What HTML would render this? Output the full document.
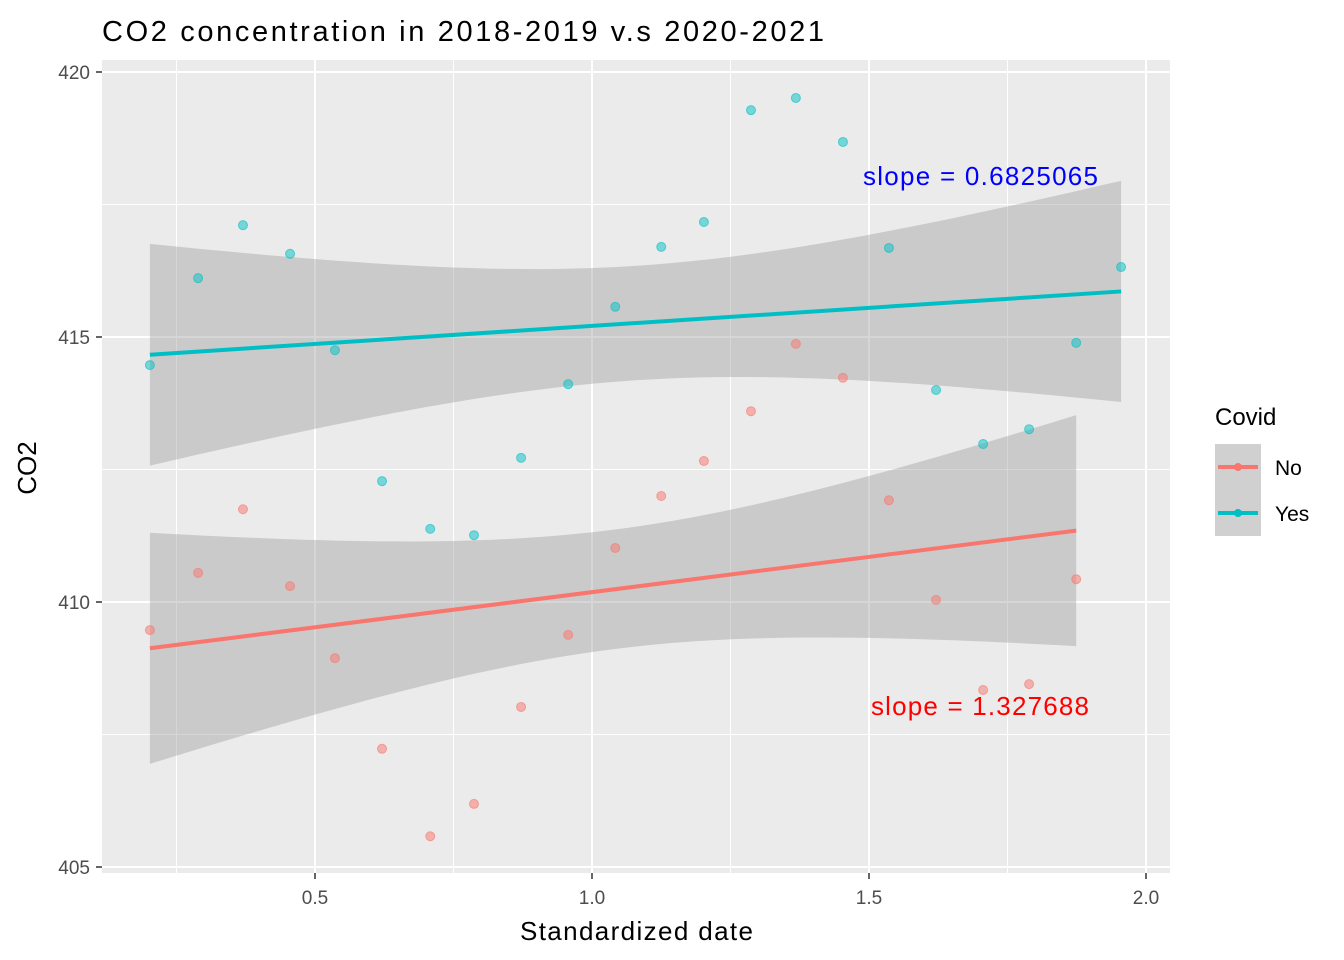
<!DOCTYPE html>
<html><head><meta charset="utf-8"><style>
html,body{margin:0;padding:0;background:#fff;}
svg{display:block;font-family:"Liberation Sans",Arial,sans-serif;}
</style></head><body>
<svg id="chart" width="1344" height="960">
<rect x="0" y="0" width="1344" height="960" fill="#fff"/>
<text x="102" y="41" font-size="29" fill="#000" textLength="722">CO2 concentration in 2018-2019 v.s 2020-2021</text>
<rect x="102" y="60" width="1068" height="813" fill="#ebebeb"/>
<g id="grid"></g><g id="bands"></g><g id="lines"></g><g id="points"></g><g id="axes"></g>
<text x="520" y="940" font-size="26" textLength="233">Standardized date</text>
<text transform="translate(36,468) rotate(-90)" font-size="26" text-anchor="middle">CO2</text>
<text x="863" y="185" font-size="26" fill="#0000ff" textLength="235">slope = 0.6825065</text>
<text x="871" y="715" font-size="26" fill="#ff0000" textLength="218">slope = 1.327688</text>
<g>
<text x="1215" y="425" font-size="24">Covid</text>
<g>
<rect x="1215" y="444" width="46" height="46" fill="#d0d0d0"/>
<line x1="1218" y1="467" x2="1258" y2="467" stroke="#f8766d" stroke-width="4"/>
<circle cx="1238" cy="467" r="4" fill="#f8766d"/>
<text x="1275" y="475" font-size="21">No</text></g>
<g>
<rect x="1215" y="490" width="46" height="46" fill="#d0d0d0"/>
<line x1="1218" y1="513" x2="1258" y2="513" stroke="#00bfc4" stroke-width="4"/>
<circle cx="1238" cy="513" r="4" fill="#00bfc4"/>
<text x="1275" y="521" font-size="21">Yes</text></g>
</g>
</svg>
<script>
const xNo = [0.202,0.289,0.370,0.455,0.536,0.621,0.708,0.787,0.872,0.957,1.042,1.125,1.202,1.287,1.368,1.453,1.536,1.621,1.706,1.789,1.874];
const yNo = [409.47,410.55,411.75,410.30,408.94,407.23,405.58,406.19,408.02,409.38,411.02,412.0,412.66,413.60,414.87,414.23,411.92,410.04,408.34,408.45,410.43];
const xYes = [0.202,0.289,0.370,0.455,0.536,0.621,0.708,0.787,0.872,0.957,1.042,1.125,1.202,1.287,1.368,1.453,1.536,1.621,1.706,1.789,1.874,1.955];
const yYes = [414.47,416.11,417.11,416.57,414.75,412.28,411.38,411.26,412.72,414.11,415.57,416.70,417.17,419.28,419.51,418.68,416.68,414.0,412.98,413.26,414.89,416.32];
const xTicks = [0.5,1.0,1.5,2.0];
const yTicks = [405,410,415,420];
const NS="http://www.w3.org/2000/svg";
const X = v => 38 + v*554;
const Y = v => 72 + (420-v)*53;
function mk(tag, attrs, parent){const e=document.createElementNS(NS,tag);for(const k in attrs)e.setAttribute(k,attrs[k]);document.getElementById(parent).appendChild(e);return e;}
[0.25,0.75,1.25,1.75].forEach(v=>{const e=mk('line',{x1:X(v),x2:X(v),y1:60,y2:873,stroke:'#fff','stroke-width':1},'grid');

});
[407.5,412.5,417.5].forEach(v=>{const e=mk('line',{x1:102,x2:1170,y1:Y(v),y2:Y(v),stroke:'#fff','stroke-width':1},'grid');

});
xTicks.forEach(v=>{const e=mk('line',{x1:X(v),x2:X(v),y1:60,y2:873,stroke:'#fff','stroke-width':2},'grid');


const t=mk('line',{x1:X(v),x2:X(v),y1:873,y2:879,stroke:'#333','stroke-width':1.5},'axes');


const l=mk('text',{x:X(v),y:904,'font-size':19,fill:'#4d4d4d','text-anchor':'middle'},'axes');l.textContent=v.toFixed(1);

});
yTicks.forEach(v=>{const e=mk('line',{x1:102,x2:1170,y1:Y(v),y2:Y(v),stroke:'#fff','stroke-width':2},'grid');


const t=mk('line',{x1:96,x2:102,y1:Y(v),y2:Y(v),stroke:'#333','stroke-width':1.5},'axes');


const l=mk('text',{x:90,y:Y(v)+7,'font-size':19,fill:'#4d4d4d','text-anchor':'end'},'axes');l.textContent=v;

});
function fit(xs,ys,color,name){
  const n=xs.length,mx=xs.reduce((a,b)=>a+b)/n,my=ys.reduce((a,b)=>a+b)/n;
  let sxx=0,sxy=0;xs.forEach((x,i)=>{sxx+=(x-mx)**2;sxy+=(x-mx)*(ys[i]-my);});
  const b=sxy/sxx,a=my-b*mx;let sse=0;xs.forEach((x,i)=>{sse+=(ys[i]-a-b*x)**2;});
  const s=Math.sqrt(sse/(n-2)),t=2.09;
  const x0=Math.min(...xs),x1=Math.max(...xs);const up=[],lo=[];
  for(let k=0;k<=60;k++){const x=x0+(x1-x0)*k/60,yh=a+b*x,se=s*Math.sqrt(1/n+(x-mx)**2/sxx);
    up.push(X(x)+','+Y(yh+t*se));lo.unshift(X(x)+','+Y(yh-t*se));}
  const p=mk('polygon',{points:up.concat(lo).join(' '),fill:'#999','fill-opacity':0.4},'bands');
  
  
  const l=mk('line',{x1:X(x0),y1:Y(a+b*x0),x2:X(x1),y2:Y(a+b*x1),stroke:color,'stroke-width':4},'lines');
  
  
  xs.forEach((x,i)=>{const c=mk('circle',{cx:X(x),cy:Y(ys[i]),r:4.5,fill:color,'fill-opacity':0.5,stroke:color,'stroke-opacity':0.6},'points');
    
    });
}
fit(xYes,yYes,'#00bfc4','yes');
fit(xNo,yNo,'#f8766d','no');
</script>
</body></html>
